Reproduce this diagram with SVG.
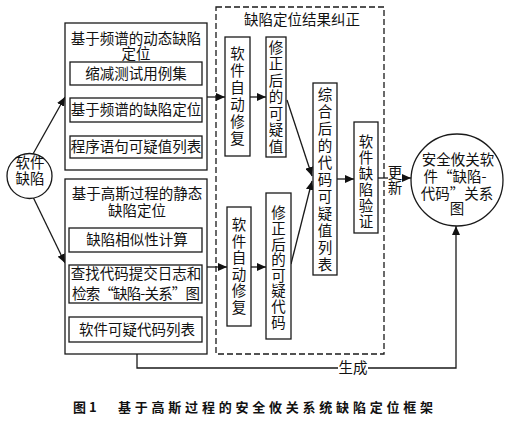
<svg xmlns="http://www.w3.org/2000/svg" width="508" height="421" viewBox="0 0 508 421">
<defs>
<style>
.b{fill:#fff;stroke:#1a1a1a;stroke-width:1.3}
.d{fill:none;stroke:#1a1a1a;stroke-width:1.3;stroke-dasharray:6 3}
.l{fill:none;stroke:#1a1a1a;stroke-width:1.3}
.t{font-family:"Noto Sans CJK SC","Noto Sans CJK JP",sans-serif;font-size:14.5px;fill:#111;text-anchor:middle}
.v{font-family:"Noto Sans CJK SC","Noto Sans CJK JP",sans-serif;font-size:14.5px;fill:#111;text-anchor:middle;writing-mode:vertical-rl;text-orientation:upright}
.c{font-family:"Noto Sans CJK SC",sans-serif;font-size:13px;font-weight:700;fill:#111}
</style>
<marker id="ah" markerWidth="9" markerHeight="8" refX="9" refY="4" orient="auto" markerUnits="userSpaceOnUse"><path d="M0,0 L9,4 L0,8 z" fill="#111"/></marker>
</defs>
<rect width="508" height="421" fill="#fff"/>

<g id="connectors">
<path class="l" d="M33,154 L65,97" marker-end="url(#ah)"/>
<path class="l" d="M33,197 L65,263" marker-end="url(#ah)"/>
<path class="l" d="M135,85 V98" marker-end="url(#ah)"/>
<path class="l" d="M135,122 V136" marker-end="url(#ah)"/>
<path class="l" d="M137,252 V265" marker-end="url(#ah)"/>
<path class="l" d="M137,303 V317" marker-end="url(#ah)"/>
<path class="l" d="M207,97 H225" marker-end="url(#ah)"/>
<path class="l" d="M250,97 H266" marker-end="url(#ah)"/>
<path class="l" d="M207,267 H227" marker-end="url(#ah)"/>
<path class="l" d="M251,267 H266" marker-end="url(#ah)"/>
<path class="l" d="M287,100 L312,176" marker-end="url(#ah)"/>
<path class="l" d="M291,264 L312,181" marker-end="url(#ah)"/>
<path class="l" d="M337,179 H354" marker-end="url(#ah)"/>
<path class="l" d="M378,178 H388"/>
<path class="l" d="M402,178 H411" marker-end="url(#ah)"/>
<path class="l" d="M137,354 V368 H338"/>
<path class="l" d="M368,368 H456 V226" marker-end="url(#ah)"/>
<text class="v" x="395" y="180" style="letter-spacing:0.5px">更新</text>
<text class="t" x="353" y="373">生成</text>
</g>

<g id="n-defect">
<circle class="b" cx="29.5" cy="176" r="22.5"/>
<text class="t"><tspan x="30" y="168">软件</tspan><tspan x="30" y="184">缺陷</tspan></text>
</g>

<g id="n-dynamic">
<rect class="b" x="65" y="23" width="142" height="147"/>
<text class="t"><tspan x="136" y="44">基于频谱的动态缺陷</tspan><tspan x="136" y="58.5">定位</tspan></text>
</g>
<g id="n-reduce">
<rect class="b" x="70" y="62" width="132" height="23"/>
<text class="t" x="136" y="78.5">缩减测试用例集</text>
</g>
<g id="n-sbfl">
<rect class="b" x="70" y="98" width="132" height="24"/>
<text class="t" x="136" y="115">基于频谱的缺陷定位</text>
</g>
<g id="n-stmt">
<rect class="b" x="70" y="136" width="132" height="22"/>
<text class="t" x="136" y="152">程序语句可疑值列表</text>
</g>

<g id="n-static">
<rect class="b" x="65" y="179" width="142" height="175"/>
<text class="t"><tspan x="137" y="199">基于高斯过程的静态</tspan><tspan x="137" y="216">缺陷定位</tspan></text>
</g>
<g id="n-sim">
<rect class="b" x="69" y="228" width="133" height="24"/>
<text class="t" x="137" y="245">缺陷相似性计算</text>
</g>
<g id="n-search">
<rect class="b" x="69" y="265" width="133" height="38"/>
<text class="t"><tspan x="136" y="279">查找代码提交日志和</tspan><tspan x="136" y="299" textLength="128">检索“缺陷-关系”图</tspan></text>
</g>
<g id="n-code">
<rect class="b" x="69" y="317" width="133" height="25"/>
<text class="t" x="137" y="334.5">软件可疑代码列表</text>
</g>

<g id="n-correct">
<rect class="d" x="216" y="7" width="168" height="347"/>
<text class="t" x="302" y="25">缺陷定位结果纠正</text>
</g>

<g id="n-repair1">
<rect class="b" x="225" y="37" width="25" height="119"/>
<text class="v" x="237.5" y="97" style="letter-spacing:2.5px">软件自动修复</text>
</g>
<g id="n-value">
<rect class="b" x="266" y="37" width="20" height="120"/>
<text class="v" x="276" y="97.5" style="letter-spacing:2px">修正后的可疑值</text>
</g>
<g id="n-repair2">
<rect class="b" x="227" y="207" width="24" height="119"/>
<text class="v" x="239" y="267" style="letter-spacing:2px">软件自动修复</text>
</g>
<g id="n-susp">
<rect class="b" x="266" y="193" width="25" height="146"/>
<text class="v" x="278.5" y="268" style="letter-spacing:1.1px">修正后的可疑代码</text>
</g>
<g id="n-merge">
<rect class="b" x="313" y="83" width="24" height="192"/>
<text class="v" x="325" y="181" style="letter-spacing:2.5px">综合后的代码可疑值列表</text>
</g>
<g id="n-verify">
<rect class="b" x="354" y="122" width="24" height="111"/>
<text class="v" x="366" y="182" style="letter-spacing:1.5px">软件缺陷验证</text>
</g>

<g id="n-graph">
<circle class="b" cx="457" cy="180" r="46"/>
<text class="t"><tspan x="458" y="165">安全攸关软</tspan><tspan x="455" y="182">件“缺陷-</tspan><tspan x="457" y="199">代码”关系</tspan><tspan x="457" y="214">图</tspan></text>
</g>

<g id="caption">
<text class="c" x="73" y="412">图 1</text>
<text class="c" x="118" y="412" textLength="315">基于高斯过程的安全攸关系统缺陷定位框架</text>
</g>
</svg>
